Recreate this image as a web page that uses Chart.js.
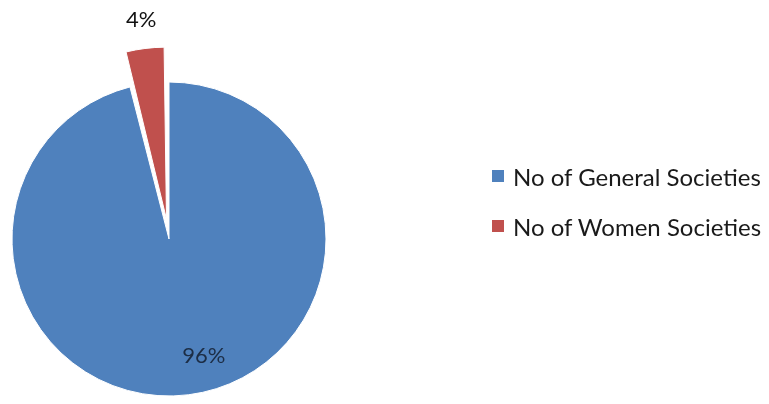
<!DOCTYPE html>
<html>
<head>
<meta charset="utf-8">
<script src="https://cdn.jsdelivr.net/npm/chart.js@4/dist/chart.umd.min.js"></script>
<style>
  html, body { margin: 0; padding: 0; background: #fff; }
  #wrap { position: relative; width: 769px; height: 404px; overflow: hidden; }
  #legend { position: absolute; left: 492px; top: 151px; font-family: Lato, "Open Sans", sans-serif; font-size: 24px; color: #1a1a1a; }
  #legend .row { display: flex; align-items: center; height: 50px; }
  #legend .box { width: 12px; height: 12px; margin-right: 9px; }
</style>
</head>
<body>
<div id="wrap">
  <canvas id="pie" width="769" height="404"></canvas>
  <div id="legend"></div>
</div>
<script>
// data
const labels = ['No of General Societies', 'No of Women Societies'];
const values = [96, 4];
const colors = ['#4F81BD', '#C0504D'];
const explode = [0, 80]; // chart.js moves the arc by half this value

// percentage labels drawn on/near the slices
const pctLabels = {
    id: 'pctLabels',
    afterDatasetsDraw(chart) {
        const ctx = chart.ctx;
        const meta = chart.getDatasetMeta(0);
        const total = values.reduce((a, b) => a + b, 0);
        ctx.save();
        ctx.font = '22px Lato, "Open Sans", sans-serif';
        ctx.textAlign = 'center';
        ctx.textBaseline = 'middle';
        meta.data.forEach(function (arc, i) {
            const p = arc.getProps(['x', 'y', 'startAngle', 'endAngle', 'outerRadius'], true);
            const mid = (p.startAngle + p.endAngle) / 2;
            const text = Math.round(values[i] / total * 100) + '%';
            let r, dx = 0;
            if (i === 0) {
                r = p.outerRadius * 0.75;
                dx = 20;
                ctx.fillStyle = '#1c2d45';
            } else {
                r = p.outerRadius + explode[i] / 2 + 24;
                ctx.fillStyle = '#111';
            }
            ctx.fillText(text, p.x + Math.cos(mid) * r + dx, p.y + Math.sin(mid) * r);
        });
        ctx.restore();
    }
};

new Chart(document.getElementById('pie'), {
    type: 'pie',
    data: {
        labels: labels,
        datasets: [{
            data: values,
            backgroundColor: colors,
            borderColor: '#ffffff',
            borderWidth: 1,
            offset: explode
        }]
    },
    options: {
        responsive: false,
        animation: false,
        radius: 157,
        layout: { padding: { left: 0, right: 431, top: 74, bottom: 0 } },
        plugins: {
            legend: { display: false },
            tooltip: { enabled: false }
        }
    },
    plugins: [pctLabels]
});

// legend
const legendEl = document.getElementById('legend');
labels.forEach(function (lab, i) {
    const row = document.createElement('div');
    row.className = 'row';
    const box = document.createElement('span');
    box.className = 'box';
    box.style.background = colors[i];
    const txt = document.createElement('span');
    txt.textContent = lab;
    row.appendChild(box);
    row.appendChild(txt);
    legendEl.appendChild(row);
});
</script>
</body>
</html>
